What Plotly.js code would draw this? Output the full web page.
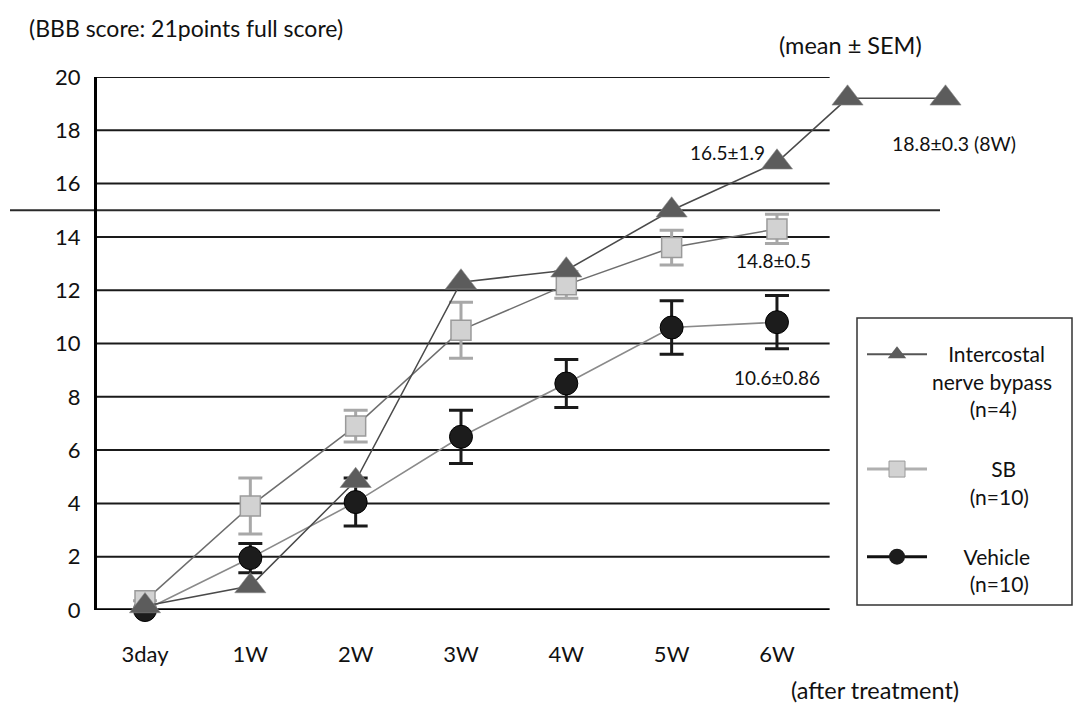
<!DOCTYPE html>
<html>
<head>
<meta charset="utf-8">
<script src="https://cdn.plot.ly/plotly-3.0.1.min.js"></script>
<style>
html,body{margin:0;padding:0;background:#fff;}
#chart{width:1074px;height:709px;}
</style>
</head>
<body>
<div id="chart"></div>
<script>
// ---- data ----
const categories = ['3day', '1W', '2W', '3W', '4W', '5W', '6W'];
const catPos = [0, 1, 2, 3, 4, 5, 6];

// Intercostal nerve bypass (n=4): 3day..6W, then two later points (8W)
const icX = [0, 1, 2, 3, 4, 5, 6, 6.67, 7.6];
const icY = [0.15, 0.9, 4.85, 12.3, 12.75, 15.0, 16.8, 19.2, 19.2];

// SB (n=10)
const sbY = [0.35, 3.9, 6.9, 10.5, 12.2, 13.6, 14.3];
const sbErr = [0, 1.05, 0.6, 1.05, 0.5, 0.65, 0.55];

// Vehicle (n=10)
const vehY = [0, 1.95, 4.05, 6.5, 8.5, 10.6, 10.8];
const vehErr = [0, 0.55, 0.9, 1.0, 0.9, 1.0, 1.0];

const yTicks = [0, 2, 4, 6, 8, 10, 12, 14, 16, 18, 20];
const thresholdY = 15;

const NB = '\u00a0';
function pad(n) { return NB.repeat(n); }
const legendNames = {
  ic: pad(3) + 'Intercostal<br>nerve bypass<br>' + pad(7) + '(n=4)',
  sb: pad(11) + 'SB<br>' + pad(7) + '(n=10)',
  veh: pad(6) + 'Vehicle<br>' + pad(7) + '(n=10)'
};

// ---- layout geometry ----
const W = 1074, H = 709;
const M = {l: 97, r: 0, t: 77, b: 99};
const plotW = W - M.l - M.r, plotH = H - M.t - M.b;
const xRange = [-0.4557, 8.82];
const yRange = [0, 20];
const gridEndX = 6.50;
const FONT = 'Lato, "Open Sans", sans-serif';

function px(x) { return (x - M.l) / plotW; }
function py(y) { return (H - M.b - y) / plotH; }

const traces = [
  {
    x: catPos, y: vehY, type: 'scatter', mode: 'lines+markers', showlegend: false,
    line: {color: '#8a8a8a', width: 1.6},
    marker: {symbol: 'circle', size: 23, color: '#1c1c1c', line: {color: '#000', width: 1}},
    error_y: {type: 'data', array: vehErr, visible: true, color: '#1a1a1a', thickness: 3, width: 12},
    cliponaxis: false
  },
  {
    x: catPos, y: sbY, type: 'scatter', mode: 'lines+markers', showlegend: false,
    line: {color: '#6e6e6e', width: 1.5},
    marker: {symbol: 'square', size: 20, color: '#d2d2d2', line: {color: '#9a9a9a', width: 1.5}},
    error_y: {type: 'data', array: sbErr, visible: true, color: '#a8a8a8', thickness: 3, width: 12},
    cliponaxis: false
  },
  {
    x: icX, y: icY, type: 'scatter', mode: 'lines+markers', showlegend: false,
    line: {color: '#4a4a4a', width: 1.5},
    marker: {symbol: 'triangle-up', size: 27, color: '#5c5c5c', line: {color: '#8a8a8a', width: 0.6}},
    cliponaxis: false
  },
  // legend-only entries (one empty point each)
  {
    x: [null], y: [null], type: 'scatter', mode: 'lines+markers', name: legendNames.ic, legendgroup: 'a',
    line: {color: '#555', width: 2},
    marker: {symbol: 'triangle-up', size: 16, color: '#5c5c5c'}
  },
  {
    x: [null], y: [null], type: 'scatter', mode: 'lines+markers', name: legendNames.sb, legendgroup: 'b',
    line: {color: '#b0b0b0', width: 3},
    marker: {symbol: 'square', size: 16, color: '#d2d2d2', line: {color: '#9a9a9a', width: 1}}
  },
  {
    x: [null], y: [null], type: 'scatter', mode: 'lines+markers', name: legendNames.veh, legendgroup: 'c',
    line: {color: '#111', width: 3},
    marker: {symbol: 'circle', size: 16, color: '#1c1c1c'}
  }
];

const shapes = [];
yTicks.forEach(function (v) {
  shapes.push({
    type: 'line', xref: 'x', yref: 'y', x0: xRange[0], x1: gridEndX, y0: v, y1: v,
    line: {color: v === 0 ? '#000' : '#1a1a1a', width: v === 0 ? 3.5 : 2}, layer: 'below'
  });
});
// long reference line at 15
shapes.push({
  type: 'line', xref: 'paper', yref: 'paper', x0: px(10), x1: px(940),
  y0: (thresholdY - yRange[0]) / (yRange[1] - yRange[0]), y1: (thresholdY - yRange[0]) / (yRange[1] - yRange[0]),
  line: {color: '#2a2a2a', width: 2}, layer: 'below'
});
// legend box
shapes.push({
  type: 'rect', xref: 'paper', yref: 'paper', x0: px(857), x1: px(1072), y0: py(605), y1: py(318),
  line: {color: '#333', width: 1.5}, fillcolor: 'rgba(255,255,255,0)', layer: 'below'
});

function ann(text, x, y, size) {
  return {text: text, xref: 'paper', yref: 'paper', x: px(x), y: py(y), xanchor: 'center', yanchor: 'middle',
    showarrow: false, font: {family: FONT, size: size, color: '#111'}};
}

const annotations = [
  ann('(BBB score: 21points full score)', 186, 28, 23),
  ann('(mean ± SEM)', 850, 45, 23.5),
  ann('16.5±1.9', 727, 152, 19),
  ann('18.8±0.3 (8W)', 954, 143, 19.5),
  ann('14.8±0.5', 773, 260, 19),
  ann('10.6±0.86', 777, 377, 19),
  ann('(after treatment)', 875, 690, 23.5)
];

const layout = {
  width: W, height: H,
  margin: M,
  paper_bgcolor: '#fff', plot_bgcolor: 'rgba(0,0,0,0)',
  font: {family: FONT, color: '#111'},
  showlegend: true,
  legend: {
    x: px(862), y: py(334), xanchor: 'left', yanchor: 'top',
    bgcolor: 'rgba(0,0,0,0)', borderwidth: 0,
    font: {family: FONT, size: 21, color: '#111'},
    itemwidth: 60, tracegroupgap: 30, valign: 'top', traceorder: 'grouped'
  },
  xaxis: {
    range: xRange, tickvals: catPos, ticktext: categories,
    showgrid: false, zeroline: false, showline: false, ticks: '',
    ticklabelstandoff: 29, tickfont: {family: FONT, size: 22, color: '#111'}
  },
  yaxis: {
    range: yRange, tickvals: yTicks, ticktext: yTicks.map(String),
    showgrid: false, zeroline: false, showline: true, linecolor: '#000', linewidth: 3,
    ticks: '', ticklabelstandoff: 9, tickfont: {family: FONT, size: 22, color: '#111'}
  },
  shapes: shapes,
  annotations: annotations,
  hovermode: false
};

Plotly.newPlot('chart', traces, layout, {staticPlot: true, displayModeBar: false});
</script>
</body>
</html>
